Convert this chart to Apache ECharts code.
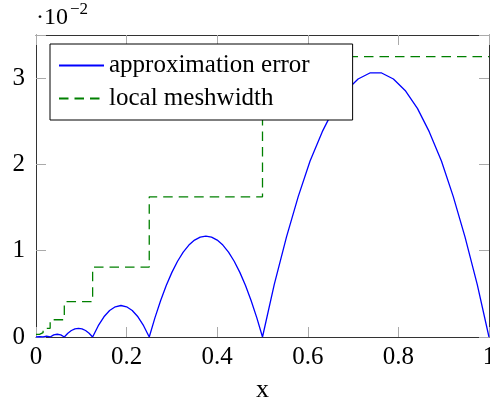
<!DOCTYPE html>
<html>
<head>
<meta charset="utf-8">
<script src="https://cdn.jsdelivr.net/npm/echarts@6/dist/echarts.min.js"></script>
<style>
  html, body { margin: 0; padding: 0; background: #fff; }
  #chart { width: 490px; height: 405px; }
</style>
</head>
<body>
<div id="chart"></div>
<script>
// values are in units of 1e-2 (see the ·10^-2 label)
var errX = [
    0, 0.0078, 0.0156,
    0.0195, 0.0234, 0.0273, 0.03125,
    0.0391, 0.0469, 0.0547, 0.0625,
    0.0703, 0.0781, 0.0859, 0.0938, 0.1016, 0.1094, 0.1172, 0.125,
    0.1375, 0.15, 0.1625, 0.175, 0.1875, 0.2, 0.2125, 0.225, 0.2375, 0.25,
    0.2625, 0.275, 0.2875, 0.3, 0.3125, 0.325, 0.3375, 0.35, 0.3625, 0.375,
    0.3875, 0.4, 0.4125, 0.425, 0.4375, 0.45, 0.4625, 0.475, 0.4875, 0.5,
    0.526, 0.553, 0.579, 0.605, 0.632, 0.658, 0.684, 0.711, 0.737,
    0.763, 0.789, 0.816, 0.842, 0.868, 0.895, 0.921, 0.947, 0.974, 1
]
var errY = [
    0, 0.003, 0,
    0.0075, 0.01, 0.0075, 0,
    0.024, 0.032, 0.024, 0,
    0.044, 0.075, 0.094, 0.1, 0.094, 0.075, 0.044, 0,
    0.131, 0.234, 0.307, 0.35, 0.365, 0.35, 0.307, 0.234, 0.131, 0,
    0.222, 0.421, 0.597, 0.749, 0.878, 0.983, 1.065, 1.123, 1.158, 1.17,
    1.158, 1.123, 1.065, 0.983, 0.878, 0.749, 0.597, 0.421, 0.222, 0,
    0.61, 1.16, 1.63, 2.04, 2.38, 2.65, 2.85, 2.99, 3.06,
    3.06, 2.99, 2.85, 2.65, 2.38, 2.04, 1.63, 1.16, 0.61, 0
]
// mesh nodes and element size per element
var meshNodes = [0, 0.0078125, 0.015625, 0.03125, 0.0625, 0.125, 0.25, 0.5, 1]
var meshWidth = [0.03, 0.05, 0.1, 0.2, 0.41, 0.81, 1.625, 3.25]
var xTicks = [0, 0.2, 0.4, 0.6, 0.8, 1]
var yTicks = [0, 1, 2, 3]

var serif = '"Liberation Serif", "DejaVu Serif", serif'

var errData = errX.map(function (x, i) { return [x, errY[i]] })
var meshData = []
for (let i = 0; i < meshWidth.length; i++) {
    meshData.push([meshNodes[i], meshWidth[i]])
    meshData.push([meshNodes[i + 1], meshWidth[i]])
}

var myChart = echarts.init(document.getElementById('chart'))

function boxAxis(pos, labels, isX) {
    return {
        type: 'value',
        position: pos,
        min: 0,
        max: isX ? 1 : 3.5,
        interval: isX ? 0.2 : 1,
        splitLine: { show: false },
        axisLine: { show: true, onZero: false, lineStyle: { color: '#333', width: 1 } },
        axisTick: { show: true, inside: true, length: 10, lineStyle: { color: '#aaa', width: 1 } },
        axisLabel: {
            show: labels,
            color: '#000',
            fontFamily: serif,
            fontSize: 25,
            margin: isX ? 8 : 11,
            formatter: function (v) {
                if (isX) return xTicks.indexOf(+v.toFixed(1)) >= 0 ? String(+v.toFixed(1)) : ''
                return yTicks.indexOf(v) >= 0 ? String(v) : ''
            }
        }
    }
}

var xBottom = boxAxis('bottom', true, true)
xBottom.name = 'x'
xBottom.nameLocation = 'middle'
xBottom.nameGap = 40
xBottom.nameTextStyle = { color: '#000', fontFamily: serif, fontSize: 26 }

var option = {
    animation: false,
    backgroundColor: '#fff',
    grid: { left: 36, right: 1, top: 35, bottom: 68, outerBoundsMode: 'none', containLabel: false },
    xAxis: [xBottom, boxAxis('top', false, true)],
    yAxis: [boxAxis('left', true, false), boxAxis('right', false, false)],
    legend: {
        orient: 'vertical',
        left: 50,
        top: 44,
        padding: [9, 43, 9, 8],
        itemWidth: 45,
        itemHeight: 14,
        itemGap: 8,
        borderColor: '#000',
        borderWidth: 1,
        backgroundColor: '#fff',
        itemStyle: { opacity: 0 },
        textStyle: { color: '#000', fontFamily: serif, fontSize: 25 },
        data: ['approximation error', 'local meshwidth']
    },
    graphic: [
        { type: 'text', left: 36, top: 6, style: { text: '·10', font: '24px ' + serif, fill: '#000' } },
        { type: 'text', left: 70, top: 1, style: { text: '−2', font: '17px ' + serif, fill: '#000' } }
    ],
    series: [
        {
            name: 'approximation error',
            type: 'line',
            symbol: 'none',
            data: errData,
            lineStyle: { color: '#0000ff', width: 1.3 },
            itemStyle: { color: '#0000ff' },
            z: 3
        },
        {
            name: 'local meshwidth',
            type: 'line',
            symbol: 'none',
            data: meshData,
            lineStyle: { color: '#008000', width: 1.3, type: [9.5, 6] },
            itemStyle: { color: '#008000' },
            z: 2
        }
    ]
}

myChart.setOption(option)
window.addEventListener('resize', myChart.resize)
</script>
</body>
</html>
